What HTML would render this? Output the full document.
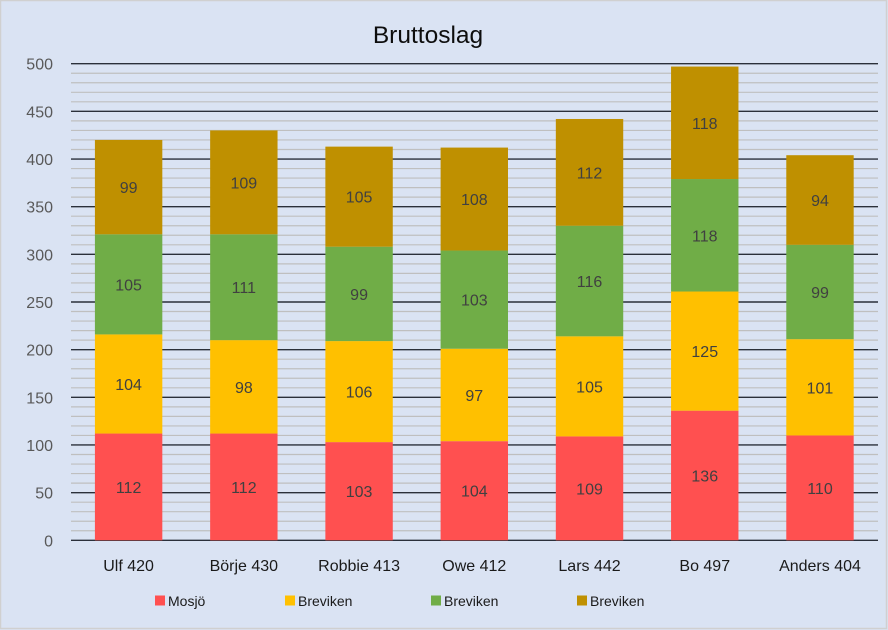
<!DOCTYPE html>
<html><head><meta charset="utf-8"><style>
html,body{margin:0;padding:0;background:#dae3f3;}
svg{display:block;}
text{font-family:"Liberation Sans",sans-serif;}
</style></head><body>
<svg width="888" height="630" viewBox="0 0 888 630" xmlns="http://www.w3.org/2000/svg">
<rect x="0.5" y="0.5" width="886" height="628" fill="#dae3f3" stroke="#d0d0d0" stroke-width="1.5"/>
<text x="428" y="43" font-size="24.5" text-anchor="middle" fill="#0d0d0d">Bruttoslag</text>
<g id="grid"></g>
<g id="bars"></g>
<g id="labels"></g>
<g font-size="14" fill="#1a1a1a">
<rect x="155" y="595.5" width="10" height="10" fill="#ff5050"/><text x="168" y="606">Mosjö</text>
<rect x="285" y="595.5" width="10" height="10" fill="#ffc000"/><text x="298" y="606">Breviken</text>
<rect x="431" y="595.5" width="10" height="10" fill="#70ad47"/><text x="444" y="606">Breviken</text>
<rect x="577" y="595.5" width="10" height="10" fill="#bf9000"/><text x="590" y="606">Breviken</text>
</g>
<script>
(function(){
var NS="http://www.w3.org/2000/svg";
function el(t,a,txt){var e=document.createElementNS(NS,t);for(var k in a)e.setAttribute(k,a[k]);if(txt!==undefined)e.textContent=txt;return e;}
function Y(v){return 540.3-v*0.9532;}
var g=document.getElementById('grid');
for(var v=0;v<=500;v+=10){
  var y=Y(v);
  if(v%50===0){
    g.appendChild(el('line',{x1:71,x2:878,y1:y,y2:y,stroke:'#2b303a','stroke-width':1.4}));
    g.appendChild(el('text',{x:53,y:y+6,'font-size':16,'text-anchor':'end',fill:'#595959'},String(v)));
  } else {
    g.appendChild(el('line',{x1:71,x2:878,y1:y,y2:y,stroke:'#bfbfbf','stroke-width':1.2}));
  }
}
var data=[["Ulf 420",[112,104,105,99]],["Börje 430",[112,98,111,109]],["Robbie 413",[103,106,99,105]],["Owe 412",[104,97,103,108]],["Lars 442",[109,105,116,112]],["Bo 497",[136,125,118,118]],["Anders 404",[110,101,99,94]]];
var cols=["#ff5050","#ffc000","#70ad47","#bf9000"];
var b=document.getElementById('bars'),l=document.getElementById('labels');
var step=806.6/7,bw=67.4;
data.forEach(function(d,i){
  var cx=71+step*(i+0.5),x=cx-bw/2,acc=0;
  d[1].forEach(function(val,j){
    var y0=Y(acc),y1=Y(acc+val);
    b.appendChild(el('rect',{x:x,y:y1,width:bw,height:y0-y1,fill:cols[j]}));
    l.appendChild(el('text',{x:cx,y:(y0+y1)/2+6,'font-size':16,'text-anchor':'middle',fill:'#404040'},String(val)));
    acc+=val;
  });
  l.appendChild(el('text',{x:cx,y:571,'font-size':16,'text-anchor':'middle',fill:'#1a1a1a'},d[0]));
});
})();
</script>
</svg>
</body></html>
